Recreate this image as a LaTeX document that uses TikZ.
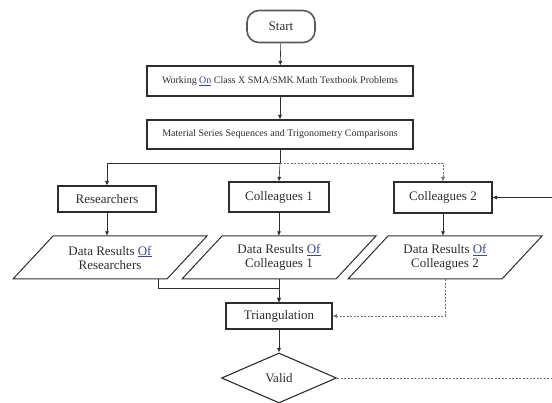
\documentclass[tikz,border=0pt]{standalone}
\usepackage{fontspec}
\setmainfont{Liberation Serif}
\usetikzlibrary{shapes.geometric,arrows.meta,calc}
\definecolor{linkblue}{RGB}{60,70,150}
\definecolor{ink}{RGB}{45,45,45}
\newcommand{\lk}[1]{\textcolor{linkblue}{\underline{#1}}}
\begin{document}
\begin{tikzpicture}[x=1pt,y=-1pt,
  line/.style={draw=ink, line width=0.6pt},
  arr/.style={line, -{Latex[length=4.5pt,width=4pt]}},
  dline/.style={draw=black!55, line width=0.6pt, dash pattern=on 2pt off 1.5pt},
  darr/.style={dline, -{Latex[length=4.5pt,width=4pt]}},
  box/.style={draw=ink, line width=1.1pt,
    inner sep=0pt, text=ink, font=\fontsize{13}{14}\selectfont},
  widebox/.style={box, minimum width=266pt, font=\fontsize{10}{12}\selectfont},
  startbox/.style={box, draw=black!65, line width=1.6pt, rounded corners=12pt, minimum width=68pt, minimum height=32pt},
  paratext/.style={inner sep=0pt, minimum width=115pt, minimum height=43pt, align=center,
    text=ink, font=\fontsize{13}{14}\selectfont},
  para/.style={draw=ink, line width=1pt, line join=miter},
  dec/.style={draw=ink, line width=1.1pt, shape=diamond, inner sep=0pt,
    minimum width=115pt, minimum height=50pt, text=ink, font=\fontsize{13}{14}\selectfont}
]
\useasboundingbox (0,0) rectangle (552,403);

% nodes
\node[startbox] (start) at (281,26.5) {Start};
\node[widebox, minimum height=30pt] (work) at (280,81) {Working \lk{On} Class X SMA/SMK Math Textbook Problems};
\node[widebox, minimum height=29pt] (mat) at (280,134.5) {Material Series Sequences and Trigonometry Comparisons};

\node[box, minimum width=98pt, minimum height=26pt] (res) at (107,199) {Researchers};
\node[box, minimum width=100pt, minimum height=30pt] (col1) at (279,197) {Colleagues 1};
\node[box, minimum width=98pt, minimum height=31pt] (col2) at (443,197.5) {Colleagues 2};

\node[paratext] (dr) at (110,257.5) {Data Results \lk{Of}\\Researchers};
\node[paratext] (dc1) at (279,257.5) {Data Results \lk{Of}\\Colleagues 1};
\node[paratext] (dc2) at (445,257.5) {Data Results \lk{Of}\\Colleagues 2};
\foreach \p in {dr,dc1,dc2}{
  \draw[para] ($(\p)+(-57,-21.5)$) -- ($(\p)+(97,-21.5)$) -- ($(\p)+(57,21.5)$) -- ($(\p)+(-97,21.5)$) -- cycle;
}

\node[box, minimum width=106pt, minimum height=26pt] (tri) at (279,316) {Triangulation};
\node[dec] (valid) at (279,378) {Valid};

% connectors
\coordinate (sp) at (280,163.5);
\coordinate (fbR) at (552,197.5);
\coordinate (vR) at (552,378);
\coordinate (drout) at (158,279);

\draw[arr] (start) -- (work);
\draw[arr] (work) -- (mat);
\draw[line] (mat.south) -- (sp);
\draw[arr] (sp) -- (col1.north);
\draw[arr] (sp) -| (res.north);
\draw[darr] (sp) -| (col2.north);
\draw[arr] (fbR) -- (col2.east);

\draw[arr] (res.south) -- (res.south |- dr.north);
\draw[arr] (col1.south) -- (dc1.north);
\draw[arr] (col2.south) -- (col2.south |- dc2.north);

\draw[arr] (drout) -- ++(0,9) -| (tri.north);
\draw[arr] (dc1.south) -- (tri.north);
\draw[darr] (dc2.south) |- (tri.east);

\draw[arr] (tri.south) -- (valid.north);
\draw[dline] (valid.east) -- (vR);
\end{tikzpicture}
\end{document}
